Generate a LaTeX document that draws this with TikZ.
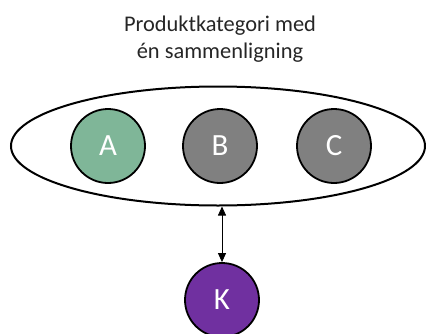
\documentclass[tikz,border=0pt]{standalone}
\usepackage{fontspec}
\setmainfont{Carlito}
\usetikzlibrary{arrows.meta,shapes.geometric}
\definecolor{agreen}{RGB}{127,182,152}
\definecolor{bgray}{RGB}{128,128,128}
\definecolor{kpurple}{RGB}{112,48,160}
\begin{document}
\begin{tikzpicture}[x=1bp,y=-1bp,
  ball/.style={circle,draw=black,line width=1.8bp,minimum size=74bp,inner sep=0pt,text=white,font=\fontsize{31}{36}\selectfont},
  dbl/.style={{Triangle[length=9bp,width=8bp]}-{Triangle[length=9bp,width=8bp]},line width=0.8bp}]
\useasboundingbox (0,0) rectangle (426,334);
\node[align=center,font=\fontsize{22.5}{27}\selectfont,text=black!85] (title) at (220,39) {Produktkategori med\\én sammenligning};
\node[ellipse,draw=black,line width=2bp,minimum width=414bp,minimum height=119bp,inner sep=0pt] (group) at (218,146) {};
\node[ball,fill=agreen] (A) at (108,146) {A};
\node[ball,fill=bgray] (B) at (220,146) {B};
\node[ball,fill=bgray] (C) at (334,146) {C};
\node[ball,fill=kpurple] (K) at (222,300) {K};
\draw[dbl] (group.south -| K) -- (K.north);
\end{tikzpicture}
\end{document}
